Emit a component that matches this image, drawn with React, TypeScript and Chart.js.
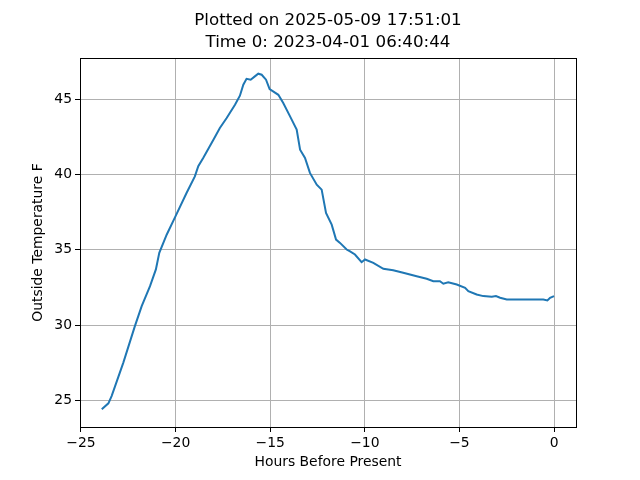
import React, { useEffect, useRef } from "react";
import { Chart, registerables } from "chart.js";

Chart.register(...registerables);

const titleLines = ["Plotted on 2025-05-09 17:51:01", "Time 0: 2023-04-01 06:40:44"];
const xLabel = "Hours Before Present";
const yLabel = "Outside Temperature F";

const hours = [-23.9, -23.55, -23.38, -22.76, -22.15, -21.79, -21.35, -21.04, -20.86, -20.47, -20.0, -19.42, -18.98, -18.8, -18.54, -18.0, -17.66, -17.3, -16.86, -16.6, -16.42, -16.25, -16.03, -15.81, -15.63, -15.45, -15.22, -15.03, -14.57, -14.31, -13.95, -13.6, -13.42, -13.16, -12.9, -12.54, -12.28, -12.05, -11.75, -11.52, -11.31, -10.96, -10.78, -10.52, -10.17, -9.99, -9.55, -9.02, -8.5, -7.97, -7.26, -6.73, -6.38, -6.03, -5.85, -5.59, -5.14, -4.7, -4.53, -4.09, -3.74, -3.29, -3.07, -2.85, -2.5, -1.8, -0.57, -0.35, -0.21, 0.0];
const temps = [24.42, 24.82, 25.3, 27.52, 29.94, 31.27, 32.59, 33.7, 34.8, 36.0, 37.23, 38.77, 39.87, 40.54, 41.09, 42.3, 43.08, 43.74, 44.62, 45.22, 45.95, 46.34, 46.28, 46.5, 46.68, 46.61, 46.28, 45.66, 45.28, 44.73, 43.85, 42.97, 41.64, 41.09, 40.1, 39.32, 38.99, 37.45, 36.67, 35.68, 35.46, 35.02, 34.9, 34.69, 34.18, 34.36, 34.14, 33.74, 33.65, 33.48, 33.25, 33.08, 32.92, 32.92, 32.75, 32.85, 32.7, 32.48, 32.26, 32.04, 31.93, 31.89, 31.93, 31.82, 31.71, 31.71, 31.71, 31.64, 31.82, 31.93];

const xTicks = [-25, -20, -15, -10, -5, 0];
const yTicks = [25, 30, 35, 40, 45];
const xRange = [-25.05, 1.16];
const yRange = [23.25, 47.72];

const FONT = "'DejaVu Sans', sans-serif";
const fmt = (v: number) => String(v).replace("-", "\u2212");

const framePlugin = {
  id: "frame",
  afterDraw(chart: any) {
    const { ctx, chartArea } = chart;
    ctx.save();
    ctx.strokeStyle = "#000";
    ctx.lineWidth = 1;
    ctx.strokeRect(
      Math.round(chartArea.left) + 0.5,
      Math.round(chartArea.top) + 0.5,
      Math.round(chartArea.right - chartArea.left),
      Math.round(chartArea.bottom - chartArea.top)
    );
    const cx = (chartArea.left + chartArea.right) / 2;
    ctx.fillStyle = "#000";
    ctx.font = `16.7px ${FONT}`;
    ctx.textAlign = "center";
    ctx.textBaseline = "middle";
    ctx.fillText(titleLines[0], cx, 21);
    ctx.fillText(titleLines[1], cx, 43);
    ctx.restore();
  },
};

export default function App() {
  const ref = useRef<HTMLCanvasElement | null>(null);
  useEffect(() => {
    if (!ref.current) return;
    const chart = new Chart(ref.current, {
      type: "line",
      data: {
        datasets: [
          {
            data: hours.map((h, i) => ({ x: h, y: temps[i] })),
            borderColor: "#1f77b4",
            borderWidth: 2,
            pointRadius: 0,
            tension: 0,
            fill: false,
          },
        ],
      },
      options: {
        animation: false,
        responsive: false,
        maintainAspectRatio: false,
        layout: { padding: { left: 0, right: 64, top: 58, bottom: 0 } },
        plugins: {
          legend: { display: false },
          tooltip: { enabled: false },
          title: { display: false },
        },
        scales: {
          x: {
            type: "linear",
            min: xRange[0],
            max: xRange[1],
            afterBuildTicks: (s: any) => {
              s.ticks = xTicks.map((v) => ({ value: v }));
            },
            afterFit: (s: any) => {
              s.height = 53;
            },
            ticks: { color: "#000", font: { family: FONT, size: 13.9 }, padding: 3, maxRotation: 0, autoSkip: false, callback: (v: any) => fmt(v) },
            grid: { color: "#b0b0b0", lineWidth: 1, tickColor: "#000", tickLength: 5, drawTicks: true },
            border: { display: true, color: "#000", width: 1 },
            title: {
              display: true,
              text: xLabel,
              color: "#000",
              font: { family: FONT, size: 13.9 },
              padding: { top: 0, bottom: 9 },
            },
          },
          y: {
            type: "linear",
            min: yRange[0],
            max: yRange[1],
            afterBuildTicks: (s: any) => {
              s.ticks = yTicks.map((v) => ({ value: v }));
            },
            afterFit: (s: any) => {
              s.width = 80;
            },
            ticks: { color: "#000", font: { family: FONT, size: 13.9 }, padding: 3, autoSkip: false, callback: (v: any) => fmt(v) },
            grid: { color: "#b0b0b0", lineWidth: 1, tickColor: "#000", tickLength: 5, drawTicks: true },
            border: { display: true, color: "#000", width: 1 },
            title: {
              display: true,
              text: yLabel,
              color: "#000",
              font: { family: FONT, size: 13.9 },
              padding: { top: 30, bottom: 0 },
            },
          },
        },
      },
      plugins: [framePlugin],
    } as any);
    return () => chart.destroy();
  }, []);
  return (
    <div style={{ position: "fixed", left: 0, top: 0, width: 640, height: 480, background: "#fff" }}>
      <canvas ref={ref} width={640} height={480} style={{ width: 640, height: 480 }} />
    </div>
  );
}
